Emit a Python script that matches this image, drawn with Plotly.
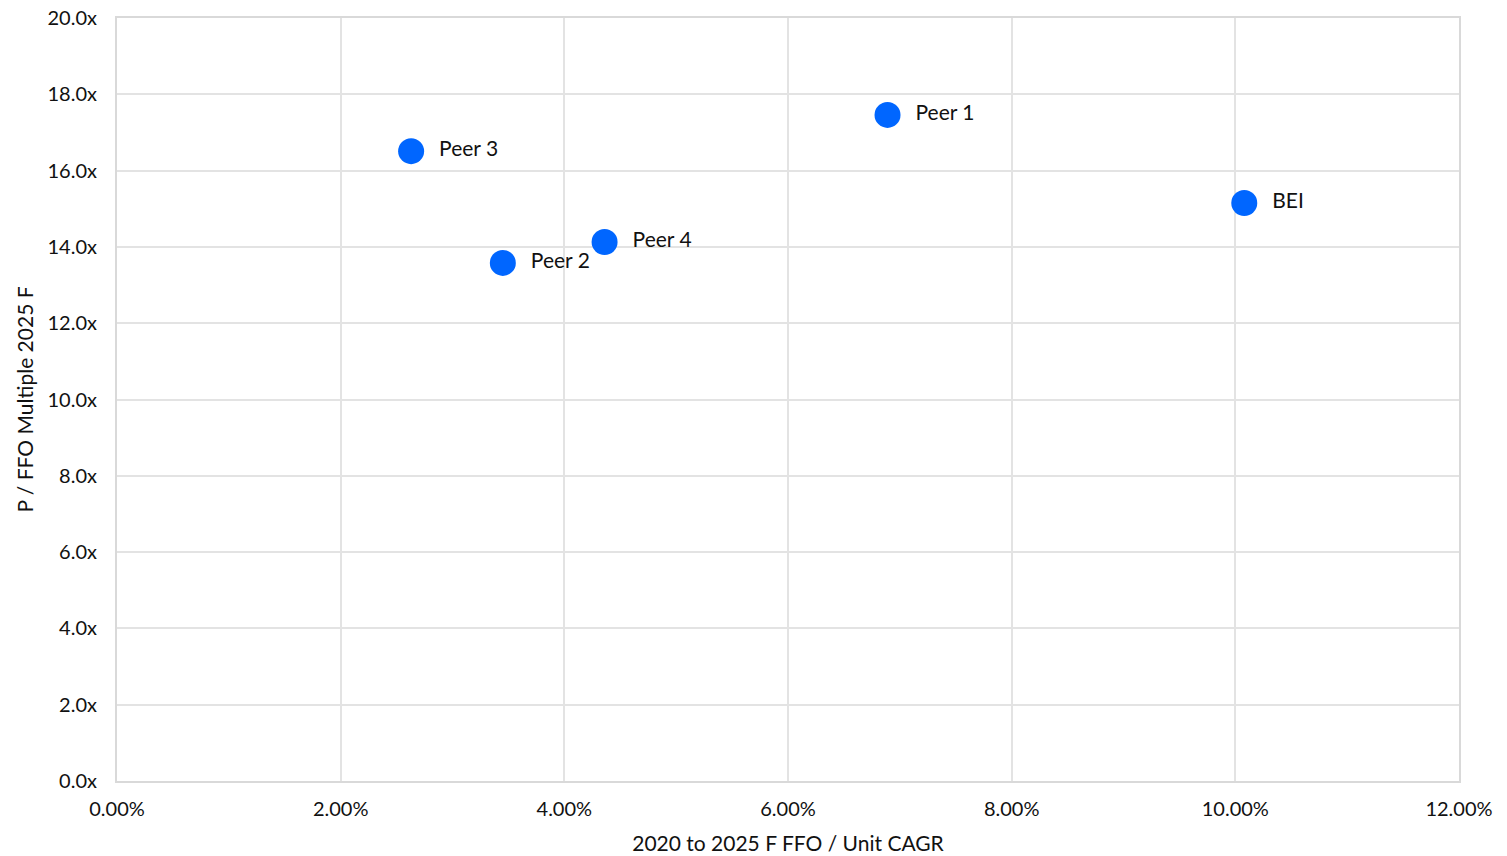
import plotly.graph_objects as go

names = ["Peer 3", "Peer 2", "Peer 4", "Peer 1", "BEI"]
cagr = [0.0263, 0.0345, 0.0436, 0.0689, 0.1008]
multiple = [16.51, 13.58, 14.13, 17.46, 15.15]

fig = go.Figure(go.Scatter(
    x=cagr, y=multiple, mode="markers+text", text=["  " + n for n in names],
    textposition="middle right",
    marker=dict(size=26, color="#0066FF"),
    textfont=dict(family="Lato", size=21, color="#111111"),
    cliponaxis=False, hoverinfo="skip",
))

axis_common = dict(
    showgrid=True, gridcolor="#e3e3e3", gridwidth=2,
    showline=True, linecolor="#d9d9d9", linewidth=2, mirror=True,
    zeroline=False, ticks="outside", tickcolor="rgba(0,0,0,0)",
    tickfont=dict(family="Lato", size=20, color="#111111"),
    title_font=dict(family="Lato", size=21, color="#111111"),
    automargin=False,
)
fig.update_xaxes(range=[0, 0.12], dtick=0.02, tickformat=".2%", ticklen=9,
                 title_text="2020 to 2025 F FFO / Unit CAGR", title_standoff=17, **axis_common)
fig.update_yaxes(range=[0, 20], dtick=2, tickformat=".1f", ticksuffix="x", ticklen=14,
                 title_text="P / FFO Multiple 2025 F", title_standoff=8, **axis_common)

fig.update_layout(
    width=1507, height=856,
    margin=dict(l=117, r=48, t=18, b=75),
    plot_bgcolor="white", paper_bgcolor="white",
    showlegend=False,
    font=dict(family="Lato"),
)
fig.write_html("out.html")
